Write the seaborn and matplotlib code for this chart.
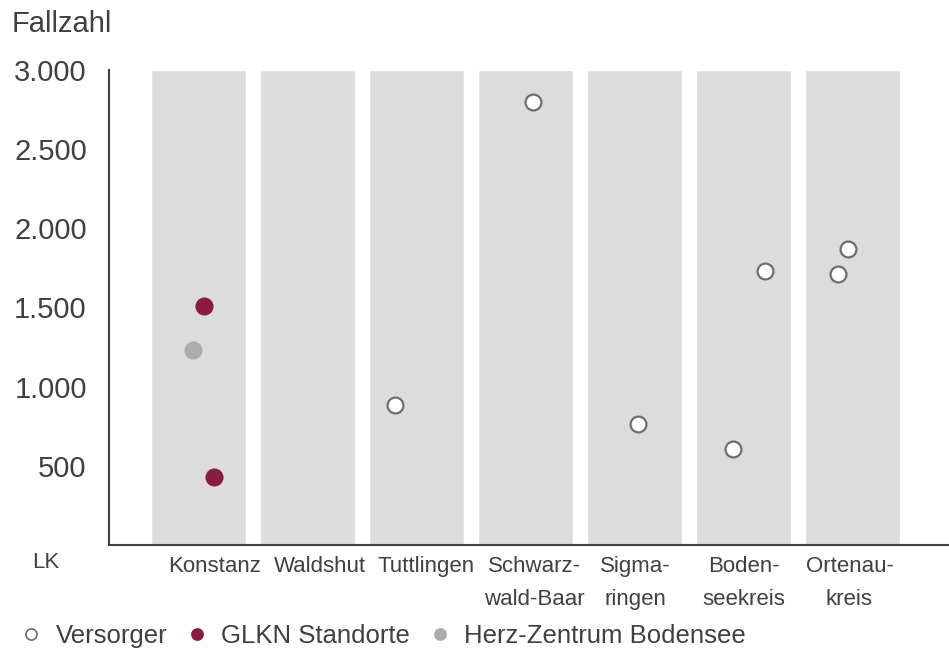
import matplotlib
matplotlib.use("Agg")
import matplotlib.pyplot as plt
from matplotlib.lines import Line2D
from matplotlib.ticker import FuncFormatter
import seaborn as sns
import pandas as pd

# Landkreise (x categories)
kreise = ["Konstanz", "Waldshut", "Tuttlingen", "Schwarz-\nwald-Baar",
          "Sigma-\nringen", "Boden-\nseekreis", "Ortenau-\nkreis"]

# Hospitals: district, case numbers, group, horizontal spread within the band
punkt_kreis = ["Konstanz", "Konstanz", "Konstanz", "Tuttlingen",
               "Schwarz-\nwald-Baar", "Sigma-\nringen", "Boden-\nseekreis",
               "Boden-\nseekreis", "Ortenau-\nkreis", "Ortenau-\nkreis"]
fallzahl = [1510, 430, 1232, 884, 2798, 764, 606, 1731, 1712, 1870]
gruppe = ["GLKN Standorte", "GLKN Standorte", "Herz-Zentrum Bodensee",
          "Versorger", "Versorger", "Versorger", "Versorger", "Versorger",
          "Versorger", "Versorger"]
versatz = [0.05, 0.14, -0.05, -0.20, 0.07, 0.03, -0.10, 0.20, -0.13, -0.04]

y_ticks = [500, 1000, 1500, 2000, 2500, 3000]
y_max = 3000

text_col = "#404040"
farben = {"Versorger": "white", "GLKN Standorte": "#8A1C3C",
          "Herz-Zentrum Bodensee": "#ABABAB"}
kanten = {"Versorger": "#6E6E6E", "GLKN Standorte": "#8A1C3C",
          "Herz-Zentrum Bodensee": "#ABABAB"}

sns.set_theme(style="white")
plt.rcParams["font.family"] = ["Liberation Sans", "DejaVu Sans"]

fig = plt.figure(figsize=(9.49, 6.52), dpi=100)
ax = fig.add_axes([109 / 949, 107 / 652, 840 / 949, 475 / 652])

# grey background band per district
bands = pd.DataFrame({"kreis": kreise, "hoehe": [y_max] * len(kreise)})
sns.barplot(data=bands, x="kreis", y="hoehe", color="#DCDCDC",
            saturation=1, width=0.88, ax=ax, zorder=1)

pos = {k: i for i, k in enumerate(kreise)}
pts = pd.DataFrame({
    "x": [pos[k] + d for k, d in zip(punkt_kreis, versatz)],
    "y": fallzahl,
    "gruppe": gruppe,
})
for g, sub in pts.groupby("gruppe"):
    sns.scatterplot(data=sub, x="x", y="y", color=farben[g],
                    edgecolor=kanten[g], linewidth=1.6, s=130,
                    ax=ax, zorder=3, legend=False)

ax.set_xlim(-0.821, 6.885)
ax.set_ylim(0, y_max)
ax.set_xlabel("")
ax.set_ylabel("")
# district names sit slightly off the band centres
label_shift = [0.147, 0.11, 0.092, 0.078, 0.01, 0.0, -0.028]
ax.set_xticks([i + d for i, d in enumerate(label_shift)])
ax.set_xticklabels(kreise, fontsize=16, color=text_col, linespacing=1.75)
ax.set_yticks(y_ticks)
ax.yaxis.set_major_formatter(
    FuncFormatter(lambda v, _: f"{int(v):,}".replace(",", ".")))
ax.tick_params(axis="y", length=0, pad=16, labelsize=21, labelcolor=text_col)
ax.tick_params(axis="x", length=0, pad=8)

for side in ("top", "right"):
    ax.spines[side].set_visible(False)
for side in ("left", "bottom"):
    ax.spines[side].set_color("#404040")
    ax.spines[side].set_linewidth(1.5)

fig.text(12 / 949, 1 - 32 / 652, "Fallzahl", fontsize=21,
         color=text_col, va="baseline")
fig.text(32 / 949, 1 - 563 / 652, "LK", fontsize=16, color=text_col,
         va="center")

handles = [Line2D([], [], ls="none", marker="o", markersize=8,
                  markerfacecolor=farben[g], markeredgecolor=kanten[g],
                  markeredgewidth=1.2, label=g)
           for g in ["Versorger", "GLKN Standorte", "Herz-Zentrum Bodensee"]]
leg = fig.legend(handles=handles, ncol=3, loc="center left",
                 bbox_to_anchor=(21 / 949, 1 - 636 / 652), frameon=False,
                 fontsize=18.5, handlelength=0.8, handletextpad=0.55,
                 columnspacing=0.75, borderaxespad=0, borderpad=0)
for t in leg.get_texts():
    t.set_color(text_col)

fig.savefig("out.png", dpi=100)
